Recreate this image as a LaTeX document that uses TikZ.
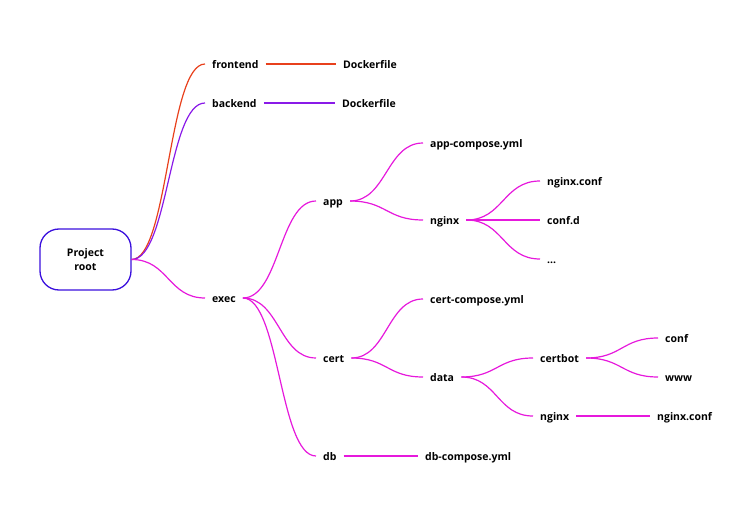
\documentclass[tikz,border=0pt]{standalone}
\usepackage{fontspec}
\setmainfont{Open Sans}
\usetikzlibrary{calc}
\definecolor{cfront}{HTML}{E8401C}
\definecolor{cback}{HTML}{8A1AE8}
\definecolor{cexec}{HTML}{E619DC}
\definecolor{croot}{HTML}{3A10DD}
\tikzset{
  lbl/.style={font=\bfseries\fontsize{10.5}{12}\selectfont, inner xsep=7pt, inner ysep=1pt,
    text height=9.8pt, text depth=0pt, anchor=west},
  sc/.style={to path={let \p1=(\tikztostart), \p2=(\tikztotarget) in
    .. controls ({(\x1+\x2)/2},\y1) and ({(\x1+\x2)/2},\y2) .. (\tikztotarget) \tikztonodes}},
  con/.style={line width=1.2pt, cexec},
}
\begin{document}
\begin{tikzpicture}[x=1pt,y=-1pt]
\useasboundingbox (0,0) rectangle (750,519);
% root
\node[draw=croot, line width=1.3pt, rounded corners=19pt, minimum width=91pt, minimum height=61pt,
  align=center, font=\bfseries\fontsize{10.5}{14.5}\selectfont] (root) at (85.5,259.5) {Project\\root};
% labels
\node[lbl] (frontend) at (205,64) {frontend};
\node[lbl] (df1) at (336,64) {Dockerfile};
\node[lbl] (backend) at (205,103) {backend};
\node[lbl] (df2) at (335,103) {Dockerfile};
\node[lbl] (exec) at (205,298) {exec};
\node[lbl] (app) at (316,201) {app};
\node[lbl] (cert) at (316,358) {cert};
\node[lbl] (db) at (316,456) {db};
\node[lbl] (dbc) at (418,456) {db-compose.yml};
\node[lbl] (appc) at (423,143) {app-compose.yml};
\node[lbl] (ngx1) at (423,220) {nginx};
\node[lbl] (nc1) at (540,181) {nginx.conf};
\node[lbl] (confd) at (540,220) {conf.d};
\node[lbl] (dots) at (540,259) {...};
\node[lbl] (certc) at (423,299) {cert-compose.yml};
\node[lbl] (data) at (423,377) {data};
\node[lbl] (certbot) at (533,358) {certbot};
\node[lbl] (ngx2) at (533,416) {nginx};
\node[lbl] (conf) at (658,338) {conf};
\node[lbl] (www) at (658,377) {www};
\node[lbl] (nc2) at (650,416) {nginx.conf};
% connectors
\draw[line width=1.2pt, cfront] (root.east) to[sc] (frontend.west);
\draw[line width=1.2pt, cfront] (frontend.east) -- (df1.west);
\draw[line width=1.2pt, cback] (root.east) to[sc] (backend.west);
\draw[line width=1.2pt, cback] (backend.east) -- (df2.west);
\draw[con] (root.east) to[sc] (exec.west);
\draw[con] (exec.east) to[sc] (app.west);
\draw[con] (exec.east) to[sc] (cert.west);
\draw[con] (exec.east) to[sc] (db.west);
\draw[con] (db.east) -- (dbc.west);
\draw[con] (app.east) to[sc] (appc.west);
\draw[con] (app.east) to[sc] (ngx1.west);
\draw[con] (ngx1.east) to[sc] (nc1.west);
\draw[con] (ngx1.east) -- (confd.west);
\draw[con] (ngx1.east) to[sc] (dots.west);
\draw[con] (cert.east) to[sc] (certc.west);
\draw[con] (cert.east) to[sc] (data.west);
\draw[con] (data.east) to[sc] (certbot.west);
\draw[con] (data.east) to[sc] (ngx2.west);
\draw[con] (certbot.east) to[sc] (conf.west);
\draw[con] (certbot.east) to[sc] (www.west);
\draw[con] (ngx2.east) -- (nc2.west);
\end{tikzpicture}
\end{document}
